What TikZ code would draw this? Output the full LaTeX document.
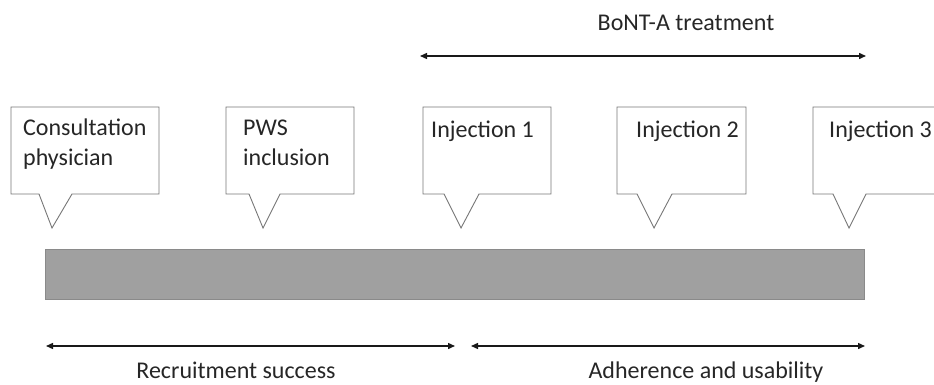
\documentclass[tikz,border=0pt]{standalone}
\usepackage{fontspec}
\setmainfont{Carlito}
\usetikzlibrary{arrows.meta}
\definecolor{barfill}{HTML}{A0A0A0}
\definecolor{barline}{HTML}{8A8A8A}
\definecolor{callline}{HTML}{777777}
\tikzset{
  callout/.style={draw=callline, line width=0.9pt, fill=white, line join=miter},
  lbl/.style={font=\fontsize{24}{30}\selectfont, text=black!85, inner sep=0pt, align=left},
  span/.style={{Triangle[length=7pt,width=6pt]}-{Triangle[length=7pt,width=6pt]}, line width=1.4pt, black!90}
}
\begin{document}
\begin{tikzpicture}[x=1pt,y=-1pt]
\useasboundingbox (0,0) rectangle (934,385);
% timeline bar
\node[draw=barline, fill=barfill, line width=0.8pt, minimum width=819pt, minimum height=50pt, inner sep=0pt, anchor=north west] (bar) at (45,249) {};
% callouts
\draw[callout] (11,107) -- (159,107) -- (159,194) -- (72,194) -- (52,228) -- (39,194) -- (11,194) -- cycle;
\draw[callout] (226,107) -- (354,107) -- (354,194) -- (280,194) -- (263,228) -- (249,194) -- (226,194) -- cycle;
\draw[callout] (423,107) -- (551,107) -- (551,194) -- (479,194) -- (461,228) -- (444,194) -- (423,194) -- cycle;
\draw[callout] (617,107) -- (746,107) -- (746,194) -- (672,194) -- (654,228) -- (637,194) -- (617,194) -- cycle;
\draw[callout] (813,107) -- (945,107) -- (945,194) -- (866,194) -- (849,228) -- (833,194) -- (813,194) -- cycle;
\node[lbl, anchor=base west] (c1) at (23,165) {Consultation\\physician};
\node[lbl, anchor=base west] (c2) at (243,165) {PWS\\inclusion};
\node[lbl, anchor=base west] (c3) at (431,138) {Injection 1};
\node[lbl, anchor=base west] (c4) at (636,138) {Injection 2};
\node[lbl, anchor=base west] (c5) at (829,138) {Injection 3};
% span arrows
\coordinate (t1) at (420,56);
\coordinate (t2) at (866,56);
\draw[span] (t1) -- (t2);
\node[lbl, anchor=base] (bont) at (686,31) {BoNT-A treatment};
\coordinate (r1) at (46,346);
\coordinate (r2) at (455,346);
\draw[span] (r1) -- (r2);
\coordinate (a1) at (471,346);
\coordinate (a2) at (865,346);
\draw[span] (a1) -- (a2);
\node[lbl, anchor=base] (rec) at (236,378) {Recruitment success};
\node[lbl, anchor=base] (adh) at (706,378) {Adherence and usability};
\end{tikzpicture}
\end{document}
